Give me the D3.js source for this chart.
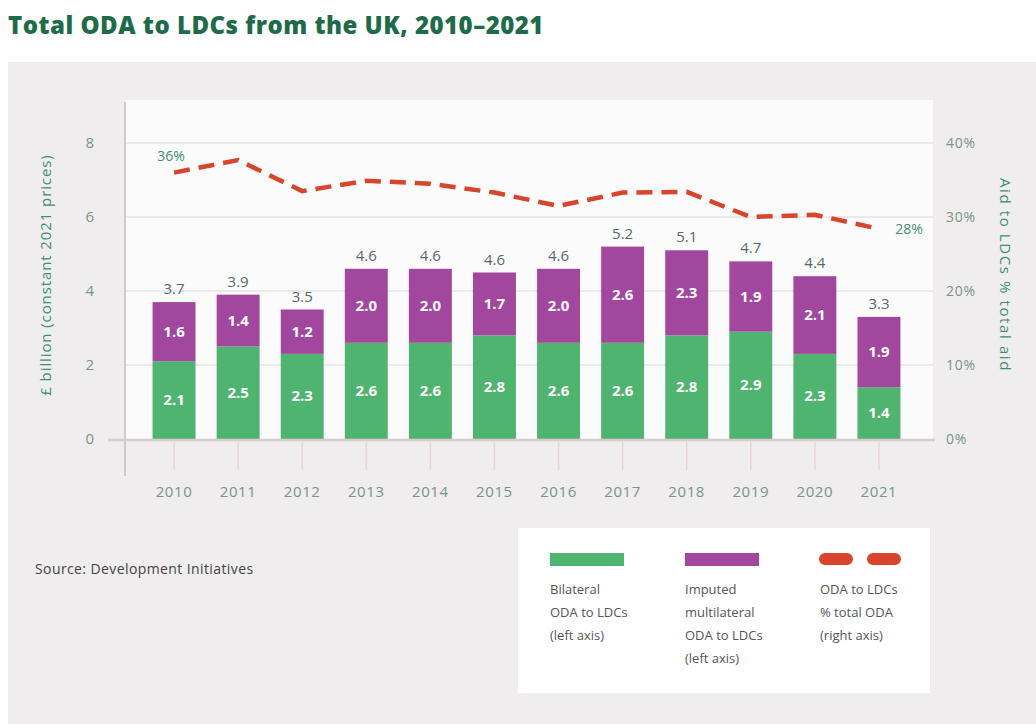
<!DOCTYPE html>
<html>
<head>
<meta charset="utf-8">
<script src="https://cdn.jsdelivr.net/npm/d3@7"></script>
<style>
  body { margin: 0; background: #fff; font-family: "Open Sans", Lato, sans-serif; }
  svg text { font-family: "Open Sans", Lato, sans-serif; }
</style>
</head>
<body>
<div id="chart"></div>
<script>
// data
const years = ['2010', '2011', '2012', '2013', '2014', '2015', '2016', '2017', '2018', '2019', '2020', '2021'];
const bilateral = [2.1, 2.5, 2.3, 2.6, 2.6, 2.8, 2.6, 2.6, 2.8, 2.9, 2.3, 1.4];
const multilateral = [1.6, 1.4, 1.2, 2.0, 2.0, 1.7, 2.0, 2.6, 2.3, 1.9, 2.1, 1.9];
const totals = [3.7, 3.9, 3.5, 4.6, 4.6, 4.6, 4.6, 5.2, 5.1, 4.7, 4.4, 3.3];
const sharePct = [36.0, 37.7, 33.5, 34.9, 34.5, 33.3, 31.5, 33.3, 33.4, 30.0, 30.3, 28.4];
const leftTicks = [0, 2, 4, 6, 8];
const rightTicks = [0, 10, 20, 30, 40];

const W = 1036, H = 724;
const colors = {green: '#4fb46f', purple: '#a2479e', red: '#d8452c', teal: '#3f8f74', tick: '#7a9488', panel: '#efeded'};

const svg = d3.select('#chart').append('svg')
    .attr('width', W).attr('height', H);

// title
svg.append('text')
    .attr('x', 8).attr('y', 34)
    .attr('font-size', 24).attr('font-weight', 800).attr('letter-spacing', 0.5)
    .attr('fill', '#1d6b48')
    .text('Total ODA to LDCs from the UK, 2010–2021');

// grey panel and white plot area
svg.append('rect').attr('x', 8).attr('y', 62).attr('width', W - 8).attr('height', H - 62).attr('fill', colors.panel);

let x = d3.scaleBand().domain(years).range([142, 911]).paddingInner(0.33).paddingOuter(0.165),
    y = d3.scaleLinear().domain([0, 8]).range([439, 143]),
    yR = d3.scaleLinear().domain([0, 40]).range([439, 143]);

svg.append('rect').attr('x', 125).attr('y', 100).attr('width', 808).attr('height', 339).attr('fill', '#fbfbfb');

// gridlines
svg.append('g').selectAll('line')
    .data(leftTicks.slice(1)).enter()
    .append('line')
    .attr('x1', 125).attr('x2', 933)
    .attr('y1', d => y(d)).attr('y2', d => y(d))
    .attr('stroke', '#e6e3e3').attr('stroke-width', 1.5);

// left axis labels
svg.append('g').selectAll('text')
    .data(leftTicks).enter()
    .append('text')
    .attr('x', 94).attr('y', d => y(d) + 5)
    .attr('text-anchor', 'end')
    .attr('font-size', 15).attr('fill', colors.tick)
    .text(d => d);

// right axis labels
svg.append('g').selectAll('text')
    .data(rightTicks).enter()
    .append('text')
    .attr('x', 946).attr('y', d => yR(d) + 5)
    .attr('font-size', 14).attr('letter-spacing', 0.8).attr('fill', colors.tick)
    .text(d => d + '%');

// axis titles
svg.append('text')
    .attr('transform', 'translate(51,275) rotate(-90)')
    .attr('text-anchor', 'middle')
    .attr('font-size', 15).attr('letter-spacing', 0.9).attr('fill', colors.teal)
    .text('£ billion (constant 2021 prices)');

svg.append('text')
    .attr('transform', 'translate(1000,275) rotate(90)')
    .attr('text-anchor', 'middle')
    .attr('font-size', 15).attr('letter-spacing', 1.6).attr('fill', colors.teal)
    .text('Aid to LDCs % total aid');

// vertical axis line and baseline
svg.append('line').attr('x1', 125).attr('x2', 125).attr('y1', 102).attr('y2', 476)
    .attr('stroke', '#cfcaca').attr('stroke-width', 2);

// ticks under baseline
svg.append('g').selectAll('line')
    .data(years).enter()
    .append('line')
    .attr('x1', d => x(d) + x.bandwidth() / 2).attr('x2', d => x(d) + x.bandwidth() / 2)
    .attr('y1', 442).attr('y2', 470)
    .attr('stroke', '#e4d6d6').attr('stroke-width', 1.5);

// year labels
svg.append('g').selectAll('text')
    .data(years).enter()
    .append('text')
    .attr('x', d => x(d) + x.bandwidth() / 2).attr('y', 497)
    .attr('text-anchor', 'middle')
    .attr('font-size', 15).attr('letter-spacing', 0.6).attr('fill', colors.tick)
    .text(d => d);

// stacked bars
const rows = years.map((yr, i) => ({year: yr, bi: bilateral[i], mu: multilateral[i], total: totals[i]}));

let bars = svg.append('g');
bars.selectAll('.bi')
    .data(rows).enter()
    .append('rect')
    .attr('x', d => x(d.year)).attr('width', x.bandwidth())
    .attr('y', d => y(d.bi)).attr('height', d => y(0) - y(d.bi))
    .attr('fill', colors.green);

bars.selectAll('.mu')
    .data(rows).enter()
    .append('rect')
    .attr('x', d => x(d.year)).attr('width', x.bandwidth())
    .attr('y', d => y(d.bi + d.mu)).attr('height', d => y(d.bi) - y(d.bi + d.mu))
    .attr('fill', colors.purple);

// baseline on top of bars
svg.append('line').attr('x1', 108).attr('x2', 935).attr('y1', 440).attr('y2', 440)
    .attr('stroke', '#d8cccc').attr('stroke-width', 2.5);

// segment labels
bars.selectAll('.biLabel')
    .data(rows).enter()
    .append('text')
    .attr('x', d => x(d.year) + x.bandwidth() / 2)
    .attr('y', d => y(d.bi / 2) + 5)
    .attr('text-anchor', 'middle')
    .attr('font-size', 15).attr('font-weight', 700).attr('fill', '#fff')
    .text(d => d.bi.toFixed(1));

bars.selectAll('.muLabel')
    .data(rows).enter()
    .append('text')
    .attr('x', d => x(d.year) + x.bandwidth() / 2)
    .attr('y', d => y(d.bi + d.mu / 2) + 5)
    .attr('text-anchor', 'middle')
    .attr('font-size', 15).attr('font-weight', 700).attr('fill', '#fff')
    .text(d => d.mu.toFixed(1));

bars.selectAll('.totLabel')
    .data(rows).enter()
    .append('text')
    .attr('x', d => x(d.year) + x.bandwidth() / 2)
    .attr('y', d => y(d.bi + d.mu) - 8)
    .attr('text-anchor', 'middle')
    .attr('font-size', 15).attr('fill', '#556b60')
    .text(d => d.total.toFixed(1));

// dashed share line
const line = d3.line()
    .x((d, i) => x(years[i]) + x.bandwidth() / 2)
    .y(d => yR(d));

svg.append('path')
    .datum(sharePct)
    .attr('d', line)
    .attr('fill', 'none')
    .attr('stroke', colors.red).attr('stroke-width', 4.5)
    .attr('stroke-dasharray', '16 9');

svg.append('text')
    .attr('x', x(years[0]) + x.bandwidth() / 2 - 3).attr('y', yR(sharePct[0]) - 12)
    .attr('text-anchor', 'middle')
    .attr('font-size', 14).attr('fill', colors.teal)
    .text(Math.round(sharePct[0]) + '%');

svg.append('text')
    .attr('x', x(years[11]) + x.bandwidth() / 2 + 30).attr('y', yR(sharePct[11]) + 5)
    .attr('text-anchor', 'middle')
    .attr('font-size', 14).attr('fill', colors.teal)
    .text(Math.round(sharePct[11]) + '%');

// source
svg.append('text')
    .attr('x', 35).attr('y', 574)
    .attr('font-size', 14).attr('letter-spacing', 0.4).attr('fill', '#444')
    .text('Source: Development Initiatives');

// legend
const legend = svg.append('g');
legend.append('rect').attr('x', 518).attr('y', 528).attr('width', 412).attr('height', 165).attr('fill', '#fff');

const legendItems = [
    {x: 550, color: colors.green, dashed: false, lines: ['Bilateral', 'ODA to LDCs', '(left axis)']},
    {x: 685, color: colors.purple, dashed: false, lines: ['Imputed', 'multilateral', 'ODA to LDCs', '(left axis)']},
    {x: 820, color: colors.red, dashed: true, lines: ['ODA to LDCs', '% total ODA', '(right axis)']}
];

legendItems.forEach(item => {
    if (item.dashed) {
        legend.append('line')
            .attr('x1', item.x + 5).attr('x2', item.x + 82)
            .attr('y1', 559).attr('y2', 559)
            .attr('stroke', item.color).attr('stroke-width', 12)
            .attr('stroke-linecap', 'round')
            .attr('stroke-dasharray', '22 26');
    } else {
        legend.append('rect')
            .attr('x', item.x).attr('y', 553).attr('width', 74).attr('height', 13)
            .attr('fill', item.color);
    }
    legend.append('g').selectAll('text')
        .data(item.lines).enter()
        .append('text')
        .attr('x', item.x).attr('y', (d, i) => 594 + i * 23)
        .attr('font-size', 13).attr('fill', '#555')
        .text(d => d);
});
</script>
</body>
</html>
